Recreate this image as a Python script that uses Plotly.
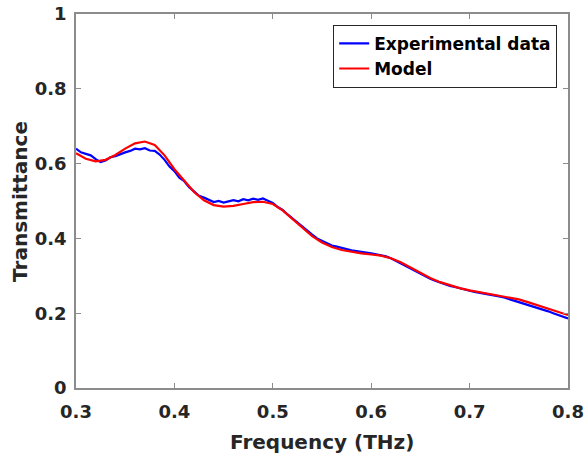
import plotly.graph_objects as go

freq_model = [0.30, 0.31, 0.32, 0.33, 0.34, 0.35, 0.36, 0.37, 0.38, 0.39,
              0.40, 0.41, 0.42, 0.43, 0.44, 0.45, 0.46, 0.47, 0.48, 0.49,
              0.50, 0.51, 0.52, 0.53, 0.54, 0.55, 0.56, 0.57, 0.58, 0.59,
              0.60, 0.61, 0.62, 0.63, 0.64, 0.65, 0.66, 0.67, 0.68, 0.69,
              0.70, 0.71, 0.72, 0.73, 0.74, 0.75, 0.76, 0.77, 0.78, 0.79, 0.80]
model = [0.628, 0.613, 0.606, 0.610, 0.623, 0.640, 0.654, 0.659, 0.650, 0.622,
         0.585, 0.553, 0.524, 0.502, 0.489, 0.485, 0.487, 0.492, 0.497, 0.498,
         0.492, 0.475, 0.452, 0.428, 0.406, 0.389, 0.377, 0.369, 0.364, 0.360,
         0.357, 0.354, 0.347, 0.336, 0.322, 0.307, 0.294, 0.283, 0.274, 0.267,
         0.261, 0.256, 0.252, 0.248, 0.243, 0.237, 0.229, 0.220, 0.211, 0.202, 0.195]

freq_exp = [0.300, 0.305, 0.310, 0.315, 0.320, 0.325, 0.330, 0.335, 0.340, 0.345,
            0.350, 0.355, 0.360, 0.365, 0.370, 0.375, 0.380, 0.385, 0.390, 0.395,
            0.400, 0.405, 0.410, 0.415, 0.420, 0.425, 0.430, 0.435, 0.440, 0.445,
            0.450, 0.455, 0.460, 0.465, 0.470, 0.475, 0.480, 0.485, 0.490, 0.495,
            0.500, 0.505, 0.510, 0.515, 0.520, 0.525, 0.530, 0.535, 0.540, 0.545,
            0.550, 0.555, 0.560, 0.565, 0.570, 0.575, 0.580, 0.585, 0.590, 0.595,
            0.600, 0.605, 0.610, 0.615, 0.620, 0.625, 0.630, 0.635, 0.640, 0.645,
            0.650, 0.655, 0.660, 0.665, 0.670, 0.675, 0.680, 0.685, 0.690, 0.695,
            0.700, 0.705, 0.710, 0.715, 0.720, 0.725, 0.730, 0.735, 0.740, 0.745,
            0.750, 0.755, 0.760, 0.765, 0.770, 0.775, 0.780, 0.785, 0.790, 0.795, 0.800]
experimental = [0.640, 0.630, 0.626, 0.622, 0.612, 0.604, 0.608, 0.617, 0.620, 0.626,
                0.630, 0.634, 0.640, 0.638, 0.641, 0.635, 0.634, 0.624, 0.610, 0.592,
                0.580, 0.562, 0.553, 0.537, 0.526, 0.514, 0.509, 0.502, 0.497, 0.500,
                0.496, 0.499, 0.502, 0.499, 0.505, 0.502, 0.506, 0.503, 0.507, 0.501,
                0.495, 0.484, 0.476, 0.464, 0.453, 0.442, 0.430, 0.420, 0.410, 0.400,
                0.393, 0.386, 0.381, 0.378, 0.374, 0.372, 0.368, 0.366, 0.365, 0.362,
                0.360, 0.358, 0.356, 0.352, 0.347, 0.340, 0.335, 0.327, 0.320, 0.312,
                0.305, 0.298, 0.292, 0.287, 0.282, 0.277, 0.273, 0.270, 0.266, 0.263,
                0.260, 0.257, 0.255, 0.253, 0.250, 0.248, 0.245, 0.242, 0.238, 0.235,
                0.231, 0.227, 0.223, 0.218, 0.214, 0.209, 0.205, 0.200, 0.196, 0.191, 0.186]

x_ticks = [0.3, 0.4, 0.5, 0.6, 0.7, 0.8]
x_tick_labels = ["0.3", "0.4", "0.5", "0.6", "0.7", "0.8"]
y_ticks = [0, 0.2, 0.4, 0.6, 0.8, 1]
y_tick_labels = ["0", "0.2", "0.4", "0.6", "0.8", "1"]
x_title = "Frequency (THz)"
y_title = "Transmittance"

font_family = "DejaVu Sans, Liberation Sans, sans-serif"
text_color = "#262626"

fig = go.Figure()
fig.add_trace(go.Scatter(x=freq_exp, y=experimental, mode="lines",
                         name="<b>Experimental data</b>",
                         line=dict(color="#0000ff", width=2.2)))
fig.add_trace(go.Scatter(x=freq_model, y=model, mode="lines",
                         name="<b>Model</b>",
                         line=dict(color="#ff0000", width=2.2)))

axis_common = dict(showgrid=False, zeroline=False, showline=True, mirror="ticks",
                   linecolor="#8c8c8c", linewidth=1.5, ticks="inside", ticklen=5,
                   tickcolor="#8c8c8c", automargin=False,
                   tickfont=dict(family=font_family, size=18, color=text_color))

fig.update_layout(
    width=586, height=460,
    margin=dict(l=76, r=18, t=14, b=72),
    paper_bgcolor="white", plot_bgcolor="white",
    xaxis=dict(range=[0.3, 0.8], tickvals=x_ticks,
               ticktext=["<b>%s</b>" % t for t in x_tick_labels],
               ticklabelstandoff=7,
               **axis_common),
    yaxis=dict(range=[0, 1], tickvals=y_ticks,
               ticktext=["<b>%s</b>" % t for t in y_tick_labels],
               ticklabelstandoff=4,
               **axis_common),
    legend=dict(x=0.978, y=0.971, xanchor="right", yanchor="top",
                bgcolor="white", bordercolor="#262626", borderwidth=1,
                font=dict(family=font_family, size=17, color="black"),
                tracegroupgap=0, itemwidth=30),
    showlegend=True,
    annotations=[
        dict(text="<b>%s</b>" % x_title, xref="paper", yref="paper",
             x=0.5, y=-0.144, xanchor="center", yanchor="middle", showarrow=False,
             font=dict(family=font_family, size=20, color=text_color)),
        dict(text="<b>%s</b>" % y_title, xref="paper", yref="paper",
             x=-0.114, y=0.5, xanchor="center", yanchor="middle", showarrow=False,
             textangle=-90,
             font=dict(family=font_family, size=20, color=text_color)),
    ],
)

fig.write_html("out.html")
